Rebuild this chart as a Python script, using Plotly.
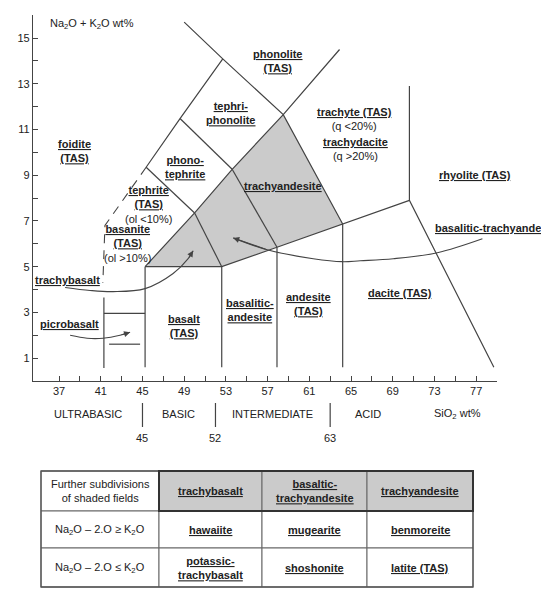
import plotly.graph_objects as go

# corner points of the fields (SiO2 wt%, Na2O+K2O wt%)
A = (45.25, 5.0)
B = (52.6, 5.0)
C = (57.9, 5.85)
D = (64.2, 6.87)
E = (58.5, 11.65)
F = (53.6, 9.26)
G = (50.0, 7.35)
H = (45.35, 9.35)
I = (48.6, 11.48)
J = (52.7, 14.09)
K = (49.0, 15.7)
L = (63.9, 14.5)
M = (70.6, 12.9)
N = (70.6, 7.9)
O = (78.7, 0.6)
base_y = 0.6

solid_boundaries = [
    [K, J, E, D],
    [H, I, J],
    [I, F],
    [H, G],
    [A, G, F, E, L],
    [G, B],
    [F, C],
    [A, B, C, D, N],
    [M, N, O],
    [A, (A[0], base_y)],
    [B, (B[0], base_y)],
    [C, (C[0], base_y)],
    [D, (D[0], base_y)],
    [(41.3, 3.65), (41.3, 0.57)],
    [(41.3, 2.96), (45.25, 2.96)],
    [(41.8, 1.61), (44.77, 1.61)],
]
foidite_boundary = [H, (41.4, 6.8), (41.2, 4.3)]
shaded_field = [A, G, F, E, D, C, B, A]

# curved pointer arrows
trachybasalt_arrow_x = [37.58, 39.98, 42.18, 45.25, 47.94, 49.38, 49.86]
trachybasalt_arrow_y = [4.09, 3.96, 3.91, 4.04, 4.70, 5.35, 5.70]
picrobasalt_arrow_x = [38.06, 39.69, 41.22, 42.85, 43.81]
picrobasalt_arrow_y = [2.0, 1.87, 1.87, 2.0, 2.13]
bta_arrow_x = [77.6, 73.28, 69.05, 65.89, 64.16, 61.38, 56.96, 53.7]
bta_arrow_y = [6.22, 5.61, 5.35, 5.26, 5.22, 5.35, 5.74, 6.26]

# field names
field_labels = [
    "<b><u>phonolite</u></b><br><b><u>(TAS)</u></b>",
    "<b><u>tephri-</u></b><br><b><u>phonolite</u></b>",
    "<b><u>foidite</u></b><br><b><u>(TAS)</u></b>",
    "<b><u>phono-</u></b><br><b><u>tephrite</u></b>",
    "<b><u>trachyte (TAS)</u></b><br>(q <20%)",
    "<b><u>trachydacite</u></b><br>(q >20%)",
    "<b><u>rhyolite (TAS)</u></b>",
    "<b><u>trachyandesite</u></b>",
    "<b><u>tephrite</u></b><br><b><u>(TAS)</u></b><br>(ol <10%)",
    "<b><u>basanite</u></b><br><b><u>(TAS)</u></b><br>(ol >10%)",
    "<b><u>trachybasalt</u></b>",
    "<b><u>picrobasalt</u></b>",
    "<b><u>basalt</u></b><br><b><u>(TAS)</u></b>",
    "<b><u>basalitic-</u></b><br><b><u>andesite</u></b>",
    "<b><u>andesite</u></b><br><b><u>(TAS)</u></b>",
    "<b><u>dacite (TAS)</u></b>",
]
field_label_x = [58.0, 53.5, 38.44, 49.09, 65.31, 65.41, 76.92, 58.5,
                 45.54, 43.53, 37.77, 37.96, 49.0, 55.33, 60.9, 69.73]
field_label_y = [14.0, 11.74, 10.04, 9.35, 11.48, 10.13, 9.0, 8.52,
                 7.72, 6.03, 4.43, 2.48, 2.39, 3.09, 3.35, 3.87]

x_tick_vals = list(range(37, 78, 2))
x_tick_text = [str(v) if (v - 37) % 4 == 0 else "" for v in x_tick_vals]
y_tick_vals = list(range(1, 16))
y_tick_text = [str(v) if v % 2 == 1 else "" for v in y_tick_vals]

silica_classes = ["ULTRABASIC", "BASIC", "INTERMEDIATE", "ACID"]
silica_class_x = [39.8, 48.5, 57.5, 66.6]
silica_bounds = [45, 52, 63]

# table of the shaded-field subdivisions
table_header = ["Further subdivisions<br>of shaded fields",
                "<b><u>trachybasalt</u></b>",
                "<b><u>basaltic-</u></b><br><b><u>trachyandesite</u></b>",
                "<b><u>trachyandesite</u></b>"]
table_conditions = ["Na<sub>2</sub>O \u2013 2.O \u2265 K<sub>2</sub>O",
                    "Na<sub>2</sub>O \u2013 2.O \u2264 K<sub>2</sub>O"]
table_trachybasalt = ["<b><u>hawaiite</u></b>",
                      "<b><u>potassic-</u></b><br><b><u>trachybasalt</u></b>"]
table_bta = ["<b><u>mugearite</u></b>", "<b><u>shoshonite</u></b>"]
table_trachyandesite = ["<b><u>benmoreite</u></b>", "<b><u>latite (TAS)</u></b>"]

LINE = "#444444"
SHADE = "#cbcbcb"
TXT = "#222222"

# page body has an 8px margin, so the figure is a little smaller than the window
W, H_FIG = 541, 592


def px(x):
    return x / W


def py(y):
    return 1 - y / H_FIG


fig = go.Figure()

fig.add_trace(go.Scatter(
    x=[p[0] for p in shaded_field], y=[p[1] for p in shaded_field],
    mode="lines", fill="toself", fillcolor=SHADE,
    line=dict(width=0), hoverinfo="skip"))

for seg in solid_boundaries:
    fig.add_trace(go.Scatter(
        x=[p[0] for p in seg], y=[p[1] for p in seg], mode="lines",
        line=dict(color=LINE, width=1.2), hoverinfo="skip"))

fig.add_trace(go.Scatter(
    x=[p[0] for p in foidite_boundary], y=[p[1] for p in foidite_boundary],
    mode="lines", line=dict(color=LINE, width=1.1, dash="9px,7px"),
    hoverinfo="skip"))

for xs, ys in [(trachybasalt_arrow_x, trachybasalt_arrow_y),
               (picrobasalt_arrow_x, picrobasalt_arrow_y),
               (bta_arrow_x, bta_arrow_y)]:
    fig.add_trace(go.Scatter(x=xs, y=ys, mode="lines", line_shape="spline",
                             line=dict(color=LINE, width=1.1), hoverinfo="skip"))
    fig.add_annotation(x=xs[-1], y=ys[-1], ax=xs[-2], ay=ys[-2],
                       xref="x", yref="y", axref="x", ayref="y", text="",
                       showarrow=True, arrowhead=2, arrowsize=1.1,
                       arrowwidth=1.1, arrowcolor=LINE, standoff=0)

for txt, x, y in zip(field_labels, field_label_x, field_label_y):
    fig.add_annotation(x=x, y=y, xref="x", yref="y", text=txt,
                       showarrow=False, font=dict(size=11, color=TXT))

# label running off the right edge, as in the source figure
fig.add_annotation(x=72.9, y=6.7, xref="x", yref="y", xanchor="left",
                   text="<b><u>basalitic-trachyandesite</u></b>",
                   showarrow=False, font=dict(size=11, color=TXT))

fig.add_annotation(x=35.9, y=15.6, xref="x", yref="y", xanchor="left",
                   text="Na<sub>2</sub>O + K<sub>2</sub>O wt%",
                   showarrow=False, font=dict(size=11, color=TXT))

# silica classes under the axis
for name, x in zip(silica_classes, silica_class_x):
    fig.add_annotation(x=x, y=py(406), xref="x", yref="paper", text=name,
                       xanchor="center", yanchor="middle",
                       showarrow=False, font=dict(size=11, color=TXT))
fig.add_annotation(x=75.2, y=py(406), xref="x", yref="paper",
                   xanchor="center", yanchor="middle",
                   text="SiO<sub>2</sub> wt%", showarrow=False,
                   font=dict(size=11, color=TXT))
for b in silica_bounds:
    fig.add_shape(type="line", xref="x", yref="paper", x0=b, x1=b,
                  y0=py(419), y1=py(395), line=dict(color=LINE, width=1.2))
    fig.add_annotation(x=b, y=py(430), xref="x", yref="paper", text=str(b),
                       xanchor="center", yanchor="middle",
                       showarrow=False, font=dict(size=11, color=TXT))

# table drawn from cells
col_w = [118, 103, 105, 106]
row_h = [40, 37, 39]
tx0, ty0 = 33, 463
col_edges = [tx0]
for w in col_w:
    col_edges.append(col_edges[-1] + w)
row_edges = [ty0]
for h in row_h:
    row_edges.append(row_edges[-1] + h)

table_cols = [[table_header[0]] + table_conditions,
              [table_header[1]] + table_trachybasalt,
              [table_header[2]] + table_bta,
              [table_header[3]] + table_trachyandesite]

for ci in range(4):
    for ri in range(3):
        fill = SHADE if (ri == 0 and ci > 0) else "white"
        fig.add_shape(type="rect", xref="paper", yref="paper",
                      x0=px(col_edges[ci]), x1=px(col_edges[ci + 1]),
                      y0=py(row_edges[ri + 1]), y1=py(row_edges[ri]),
                      fillcolor=fill, line=dict(color="#666666", width=1),
                      layer="below")
        fig.add_annotation(x=px((col_edges[ci] + col_edges[ci + 1]) / 2),
                           y=py((row_edges[ri] + row_edges[ri + 1]) / 2),
                           xref="paper", yref="paper", text=table_cols[ci][ri],
                           xanchor="center", yanchor="middle",
                           showarrow=False, font=dict(size=11, color=TXT))

fig.add_shape(type="rect", xref="paper", yref="paper",
              x0=px(col_edges[0]), x1=px(col_edges[-1]),
              y0=py(row_edges[-1]), y1=py(row_edges[0]),
              line=dict(color="#555555", width=1.3))
fig.add_shape(type="rect", xref="paper", yref="paper",
              x0=px(col_edges[1]), x1=px(col_edges[-1]),
              y0=py(row_edges[1]), y1=py(row_edges[0]),
              line=dict(color="#333333", width=2))

fig.update_xaxes(range=[34.5, 79.0], domain=[px(25), px(489)],
                 showline=True, linecolor=LINE, linewidth=1.2,
                 ticks="inside", ticklen=5, tickcolor=LINE,
                 tickvals=x_tick_vals, ticktext=x_tick_text,
                 tickfont=dict(size=11, color=TXT),
                 showgrid=False, zeroline=False)
fig.update_yaxes(range=[0, 16], domain=[py(373), py(7.2)],
                 showline=True, linecolor=LINE, linewidth=1.2,
                 ticks="inside", ticklen=5, tickcolor=LINE,
                 tickvals=y_tick_vals, ticktext=y_tick_text,
                 tickfont=dict(size=11, color=TXT),
                 showgrid=False, zeroline=False)

fig.update_layout(
    width=W, height=H_FIG,
    margin=dict(l=0, r=0, t=0, b=0),
    paper_bgcolor="white", plot_bgcolor="white",
    showlegend=False,
    font=dict(family="Liberation Sans, Arial, sans-serif", size=11, color=TXT),
)

fig.write_html("out.html")
